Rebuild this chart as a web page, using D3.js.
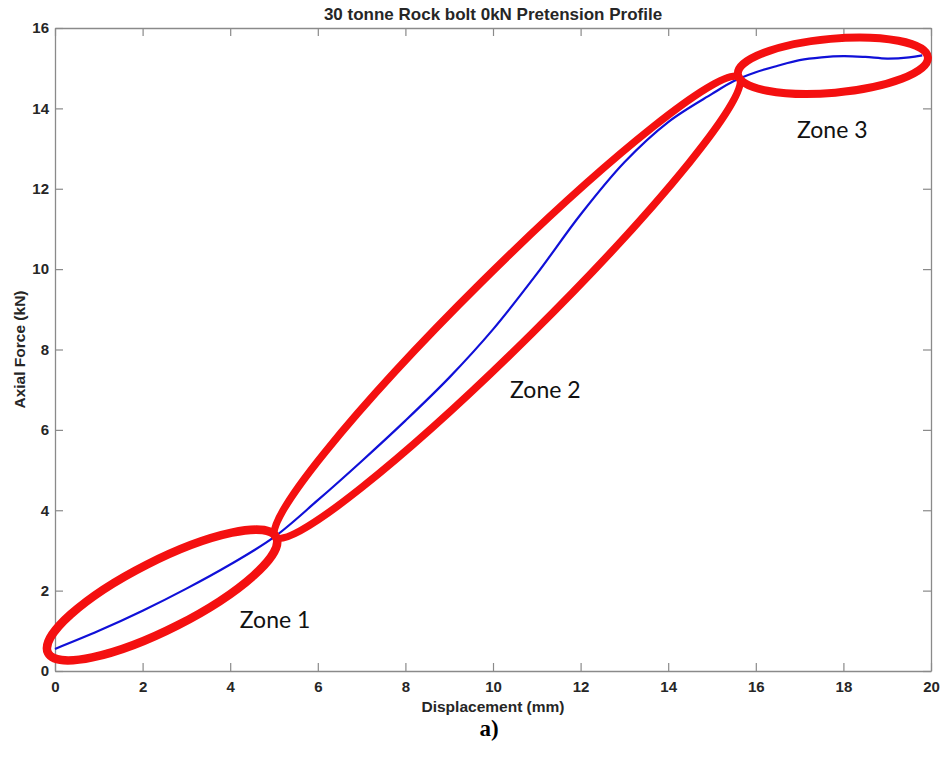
<!DOCTYPE html>
<html>
<head>
<meta charset="utf-8">
<script src="https://cdn.jsdelivr.net/npm/d3@7"></script>
<style>
  html, body { margin: 0; padding: 0; background: #fff; }
  svg { display: block; }
</style>
</head>
<body>
<svg id="chart" width="952" height="757"></svg>
<script>
// Load-displacement profile of the bolt
const displacement = [0, 1, 2, 3, 4, 5, 6, 7, 8, 9, 10, 11, 12, 13, 14, 15, 15.5, 16, 16.5, 17, 17.5, 18, 18.5, 19, 19.5, 19.8];
const axialForce   = [0.55, 1.0, 1.5, 2.05, 2.65, 3.33, 4.25, 5.22, 6.23, 7.3, 8.5, 9.88, 11.36, 12.66, 13.66, 14.36, 14.68, 14.9, 15.06, 15.2, 15.27, 15.3, 15.28, 15.24, 15.27, 15.32];

// Axis ticks
const xTicks = [0, 2, 4, 6, 8, 10, 12, 14, 16, 18, 20];
const yTicks = [0, 2, 4, 6, 8, 10, 12, 14, 16];

// Zones of behaviour: tips of each outlined region (displacement, force)
const zoneNames  = ["Zone 1", "Zone 2", "Zone 3"];
const zoneFromX  = [-0.16, 5.03, 15.59];
const zoneFromY  = [0.45, 3.33, 14.85];
const zoneToX    = [5.05, 15.62, 19.93];
const zoneToY    = [3.33, 14.77, 15.27];
// Where each zone's label sits (displacement, force)
const zoneLabelX = [4.22, 10.39, 16.94];
const zoneLabelY = [1.07, 6.79, 13.26];

const svg = d3.select("#chart");
const W = 952, H = 757;
const plot = { left: 55, right: 931, top: 28, bottom: 671 };

svg.append("rect").attr("width", W).attr("height", H).attr("fill", "#fff");

const x = d3.scaleLinear().domain([0, 20]).range([plot.left, plot.right]);
const y = d3.scaleLinear().domain([0, 16]).range([plot.bottom, plot.top]);

const axisColor = "#8a8a8a";
const textColor = "#262626";
const sans = "'Liberation Sans', Arial, Helvetica, sans-serif";

function styleText(sel, size, weight) {
  return sel.attr("font-family", sans).attr("font-size", size).attr("font-weight", weight).attr("fill", textColor);
}

// Bottom and left axes with inward ticks
const gx = svg.append("g").attr("transform", `translate(0,${plot.bottom})`)
  .call(d3.axisBottom(x).tickValues(xTicks).tickSizeInner(-8).tickSizeOuter(0).tickPadding(10).tickFormat(d3.format("d")));
const gy = svg.append("g").attr("transform", `translate(${plot.left},0)`)
  .call(d3.axisLeft(y).tickValues(yTicks).tickSizeInner(-8).tickSizeOuter(0).tickPadding(6).tickFormat(d3.format("d")));
// Top and right box edges with inward ticks, no labels
const gt = svg.append("g").attr("transform", `translate(0,${plot.top})`)
  .call(d3.axisTop(x).tickValues(xTicks).tickSizeInner(-8).tickSizeOuter(0).tickFormat(""));
const gr = svg.append("g").attr("transform", `translate(${plot.right},0)`)
  .call(d3.axisRight(y).tickValues(yTicks).tickSizeInner(-8).tickSizeOuter(0).tickFormat(""));

[gx, gy, gt, gr].forEach(g => {
  g.attr("font-family", sans).attr("font-size", 15).attr("font-weight", "bold");
  g.selectAll("path.domain").attr("stroke", axisColor).attr("stroke-width", 1.3);
  g.selectAll(".tick line").attr("stroke", axisColor).attr("stroke-width", 1.2);
  g.selectAll(".tick text").attr("fill", textColor);
});

// Titles
styleText(svg.append("text"), 17, "bold")
  .attr("x", (plot.left + plot.right) / 2).attr("y", 20)
  .attr("text-anchor", "middle")
  .text("30 tonne Rock bolt 0kN Pretension Profile");

styleText(svg.append("text"), 15.5, "bold")
  .attr("x", (plot.left + plot.right) / 2).attr("y", 712)
  .attr("text-anchor", "middle")
  .text("Displacement (mm)");

styleText(svg.append("text"), 15.5, "bold")
  .attr("transform", `translate(25,${(plot.top + plot.bottom) / 2}) rotate(-90)`)
  .attr("text-anchor", "middle")
  .text("Axial Force (kN)");

svg.append("text")
  .attr("x", 489).attr("y", 736)
  .attr("text-anchor", "middle").attr("fill", "#000")
  .attr("font-family", "'Liberation Serif', 'Times New Roman', serif")
  .attr("font-size", 23).attr("font-weight", "bold")
  .text("a)");

// Force-displacement curve
const points = displacement.map((d, i) => [d, axialForce[i]]);
const line = d3.line().x(d => x(d[0])).y(d => y(d[1])).curve(d3.curveCatmullRom.alpha(0.5));
svg.append("path")
  .datum(points)
  .attr("d", line)
  .attr("fill", "none")
  .attr("stroke", "#1010d8")
  .attr("stroke-width", 2.2);

// Zone outlines: rotated ellipses spanning each zone's tips
const zoneHalfWidth = [34, 36, 27];
const zoneStroke = [8.5, 7.5, 8];
zoneNames.forEach((name, i) => {
  const x1 = x(zoneFromX[i]), y1 = y(zoneFromY[i]);
  const x2 = x(zoneToX[i]),   y2 = y(zoneToY[i]);
  const cx = (x1 + x2) / 2, cy = (y1 + y2) / 2;
  const rx = Math.hypot(x2 - x1, y2 - y1) / 2;
  const ang = Math.atan2(y2 - y1, x2 - x1) * 180 / Math.PI;
  svg.append("ellipse")
    .attr("cx", 0).attr("cy", 0)
    .attr("rx", rx).attr("ry", zoneHalfWidth[i])
    .attr("transform", `translate(${cx},${cy}) rotate(${ang})`)
    .attr("fill", "none")
    .attr("stroke", "#f41010")
    .attr("stroke-width", zoneStroke[i]);

  svg.append("text")
    .attr("x", x(zoneLabelX[i])).attr("y", y(zoneLabelY[i]))
    .attr("fill", "#111")
    .attr("font-family", "Lato, 'Open Sans', sans-serif")
    .attr("font-size", 23)
    .text(name);
});
</script>
</body>
</html>
